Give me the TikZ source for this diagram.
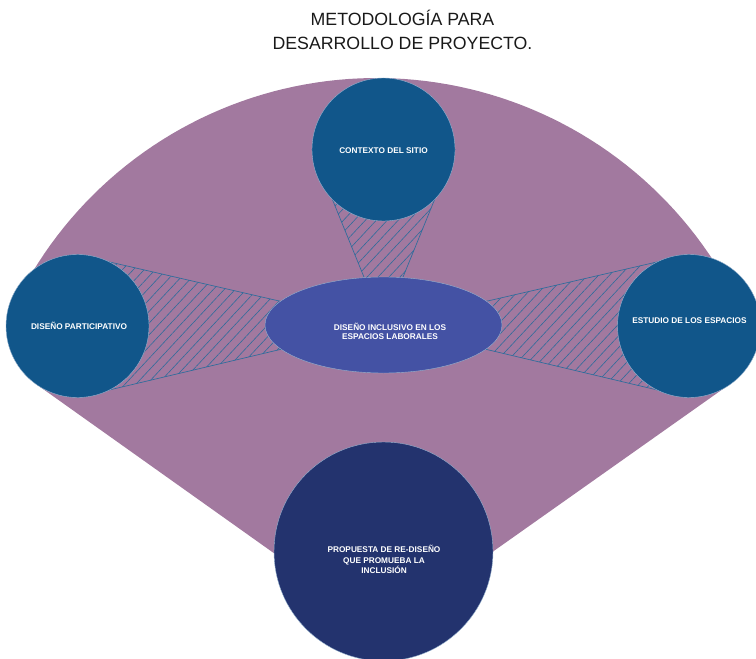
\documentclass[tikz,border=0pt]{standalone}
\usepackage{fontspec}
\setmainfont{Liberation Sans}
\usetikzlibrary{calc,shapes.geometric,patterns.meta,backgrounds}
\definecolor{fanpurple}{RGB}{162,121,159}
\definecolor{outerblue}{RGB}{17,86,138}
\definecolor{coreblue}{RGB}{68,82,164}
\definecolor{navyblue}{RGB}{35,51,110}
\definecolor{hatchblue}{RGB}{46,108,155}
\definecolor{rim}{RGB}{150,178,206}
\begin{document}
\begin{tikzpicture}[x=0.75pt,y=-0.75pt,
  bubble/.style={circle,fill=outerblue,draw=rim,line width=0.3pt,minimum size=107.25pt,inner sep=0pt},
  bigbubble/.style={circle,fill=navyblue,draw=rim,line width=0.3pt,minimum size=164.25pt,inner sep=0pt},
  coreshape/.style={ellipse,fill=coreblue,draw=rim,line width=0.3pt,minimum width=177.75pt,minimum height=72pt,inner sep=0pt},
  txt/.style={text=white,align=center,inner sep=0pt,font=\fontsize{6.2}{6.8}\selectfont\bfseries},
  hatchtri/.style={pattern={Lines[angle=47,distance=6pt,line width=0.45pt]},pattern color=hatchblue,draw=hatchblue,line width=0.5pt},
  titletext/.style={align=center,inner sep=0pt,text=black!90,font=\fontsize{13.3}{18}\selectfont}
]
\useasboundingbox (0,0) rectangle (756,659);
\clip (0,0) rectangle (756,659);

\node[titletext] (ttl) at (402.5,30) {METODOLOGÍA PARA\\DESARROLLO DE PROYECTO.};

\node[coreshape] (core) at (383.5,325) {};
\node[bubble] (top) at (383.5,149.5) {};
\node[bubble] (left) at (77.5,326) {};
\node[bubble] (right) at (689,326) {};
\node[bigbubble] (bottom) at (383.5,551.5) {};

\begin{scope}[on background layer]
  \fill[fanpurple] (382,630) -- (36,384) -- (14,335)
    -- plot[domain=152:28,samples=80] ({376.5+402*cos(\x)},{480-402*sin(\x)})
    -- (748,330) -- (730,384) -- cycle;
  \foreach \c in {top,left,right}
    \filldraw[hatchtri] (core.center) -- ($(\c.center)!53.6pt!90:(core.center)$)
      -- ($(\c.center)!53.6pt!-90:(core.center)$) -- cycle;
\end{scope}

\node[txt] (topT) at (383.5,150.5) {CONTEXTO DEL SITIO};
\node[txt] (leftT) at (79,325.7) {DISEÑO PARTICIPATIVO};
\node[txt] (rightT) at (689.5,321) {ESTUDIO DE LOS ESPACIOS};
\node[txt,font=\fontsize{6.2}{6.75}\selectfont\bfseries] (coreT) at (390,331) {DISEÑO INCLUSIVO EN LOS\\ESPACIOS LABORALES};
\node[txt,font=\fontsize{6.2}{7.9}\selectfont\bfseries] (bottomT) at (384,559.5) {PROPUESTA DE RE-DISEÑO\\QUE PROMUEBA LA\\INCLUSIÓN};
\end{tikzpicture}
\end{document}
